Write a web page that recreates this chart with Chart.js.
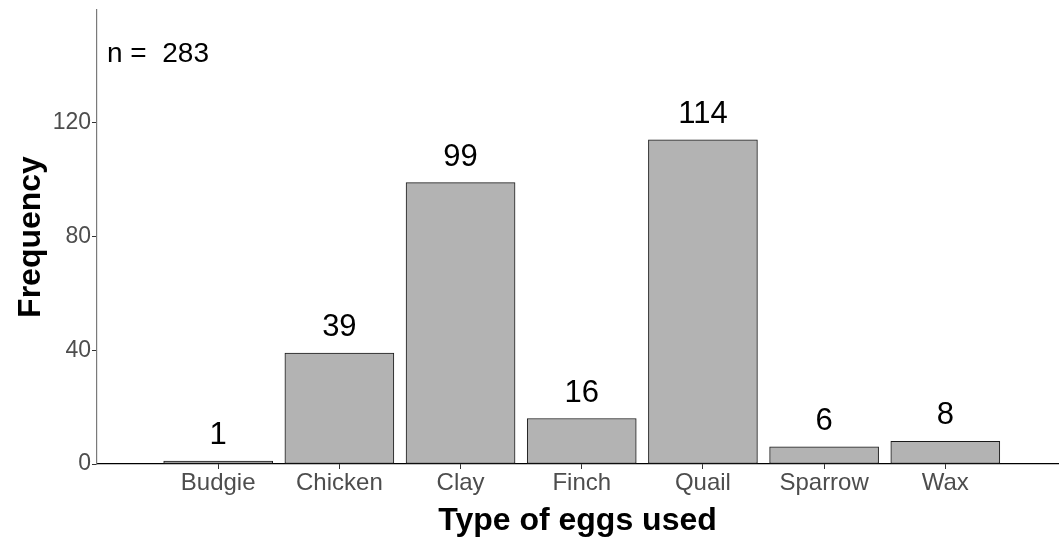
<!DOCTYPE html>
<html>
<head>
<meta charset="utf-8">
<script src="https://cdn.jsdelivr.net/npm/chart.js@4.4.1/dist/chart.umd.min.js"></script>
<style>
  html, body { margin: 0; padding: 0; background: #fff; }
  #wrap { width: 1061px; height: 542px; }
</style>
</head>
<body>
<div id="wrap"><canvas id="eggChart" width="1061" height="542"></canvas></div>
<script>
const eggTypes = ["Budgie", "Chicken", "Clay", "Finch", "Quail", "Sparrow", "Wax"];
const eggCounts = [1, 39, 99, 16, 114, 6, 8];
const yTicks = [0, 40, 80, 120];
const totalN = 283;

const fontFam = "'Liberation Sans', Arial, sans-serif";

// bar labels on top of each bar
const barLabels = {
    id: "barLabels",
    afterDatasetsDraw(chart) {
        const ctx = chart.ctx;
        const meta = chart.getDatasetMeta(0);
        ctx.save();
        ctx.font = "31px " + fontFam;
        ctx.fillStyle = "#000";
        ctx.textAlign = "center";
        ctx.textBaseline = "alphabetic";
        meta.data.forEach(function (bar, i) {
            ctx.fillText(String(eggCounts[i]), bar.x, bar.y - 17);
        });
        // sample size note
        ctx.textAlign = "left";
        ctx.font = "28px " + fontFam;
        ctx.fillText("n =  " + totalN, chart.chartArea.left + 10, 62);
        ctx.restore();
    }
};

const ctx = document.getElementById("eggChart").getContext("2d");
new Chart(ctx, {
    type: "bar",
    data: {
        datasets: [{
            data: eggCounts.map((v, i) => ({ x: i + 1, y: v })),
            backgroundColor: "#B3B3B3",
            borderColor: "#1a1a1a",
            borderWidth: 1,
            borderSkipped: false,
            barThickness: 109
        }]
    },
    options: {
        responsive: false,
        animation: false,
        layout: { padding: { top: 10, right: 3, left: 0, bottom: 0 } },
        plugins: {
            legend: { display: false },
            tooltip: { enabled: false }
        },
        scales: {
            x: {
                type: "linear",
                offset: false,
                min: 0,
                max: 7.93,
                afterBuildTicks: function (scale) {
                    scale.ticks = eggTypes.map((t, i) => ({ value: i + 1 }));
                },
                afterFit: function (scale) { scale.height = 78; },
                ticks: {
                    color: "#4D4D4D",
                    font: { size: 24, family: fontFam },
                    padding: 0,
                    maxRotation: 0,
                    autoSkip: false,
                    callback: function (value) { return eggTypes[value - 1] || ""; }
                },
                grid: { drawOnChartArea: false, offset: false, tickLength: 5, color: "#333" },
                border: { color: "#000", width: 1.2 },
                title: {
                    display: true,
                    text: "Type of eggs used",
                    color: "#000",
                    font: { size: 32, weight: "bold", family: fontFam },
                    padding: { top: 0, bottom: 2 }
                }
            },
            y: {
                min: 0,
                max: 159.7,
                afterBuildTicks: function (scale) {
                    scale.ticks = yTicks.map(v => ({ value: v }));
                },
                afterFit: function (scale) {
                    scale.width = 97;
                    scale.paddingTop = 0;
                },
                ticks: {
                    color: "#4D4D4D",
                    font: { size: 23, family: fontFam, lineHeight: 0.7 },
                    padding: 1
                },
                grid: { drawOnChartArea: false, tickLength: 5, color: "#333" },
                border: { color: "#7a7a7a", width: 1.2 },
                title: {
                    display: true,
                    text: "Frequency",
                    color: "#000",
                    font: { size: 32, weight: "bold", family: fontFam },
                    padding: { top: 12, bottom: 0 }
                }
            }
        }
    },
    plugins: [barLabels]
});
</script>
</body>
</html>
